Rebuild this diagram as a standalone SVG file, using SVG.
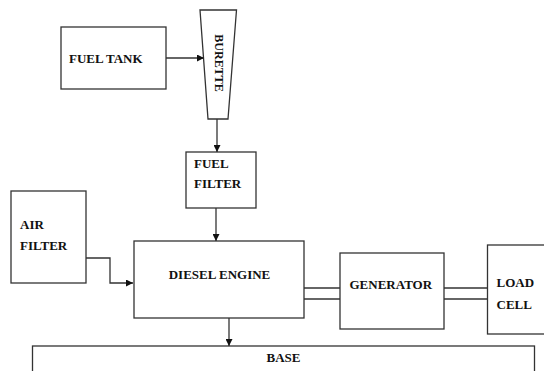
<svg xmlns="http://www.w3.org/2000/svg" width="544" height="371" viewBox="0 0 544 371">
<style>
.box{fill:#fff;stroke:#333;stroke-width:1.3}
.t{font-family:"Liberation Serif","Times New Roman",serif;font-weight:bold;font-size:13px;fill:#111}
.ln{fill:none;stroke:#333;stroke-width:1.3}
</style>
<defs>
<marker id="ah" viewBox="0 0 10 10" refX="10" refY="5" markerWidth="7" markerHeight="7" markerUnits="userSpaceOnUse" orient="auto">
<path d="M0,0 L10,5 L0,10 z" fill="#111"/>
</marker>
</defs>
<rect width="544" height="371" fill="#fff"/>
<g id="fuel-tank">
<rect class="box" x="61" y="27" width="105" height="62"/>
<text class="t" x="69" y="63">FUEL TANK</text>
</g>
<g id="burette">
<polygon class="box" points="200,10 236.5,10 228,119 208,119"/>
<text class="t" transform="translate(219,63) rotate(90)" x="0" y="4" text-anchor="middle" style="font-size:12px">BURETTE</text>
</g>
<g id="fuel-filter">
<rect class="box" x="186" y="152" width="70" height="56"/>
<text class="t" x="194" y="168">FUEL</text>
<text class="t" x="194" y="188">FILTER</text>
</g>
<g id="air-filter">
<rect class="box" x="11" y="191" width="75" height="92"/>
<text class="t" x="20" y="229">AIR</text>
<text class="t" x="20" y="250">FILTER</text>
</g>
<g id="diesel-engine">
<rect class="box" x="134" y="241" width="170" height="77"/>
<text class="t" x="219.5" y="279" text-anchor="middle">DIESEL ENGINE</text>
</g>
<g id="generator">
<rect class="box" x="340" y="253" width="104" height="76"/>
<text class="t" x="349.5" y="289">GENERATOR</text>
</g>
<g id="load-cell">
<rect class="box" x="487.5" y="245" width="62" height="89"/>
<text class="t" x="496.5" y="287">LOAD</text>
<text class="t" x="496.5" y="309">CELL</text>
</g>
<g id="base">
<rect class="box" x="32.5" y="346" width="502" height="40"/>
<text class="t" x="266.5" y="362">BASE</text>
</g>
<g id="connectors">
<line class="ln" x1="166" y1="58" x2="204" y2="58" marker-end="url(#ah)"/>
<line class="ln" x1="217" y1="119" x2="217" y2="152" marker-end="url(#ah)"/>
<line class="ln" x1="216" y1="208" x2="216" y2="241" marker-end="url(#ah)"/>
<polyline class="ln" points="86,258 110,258 110,283 133,283" marker-end="url(#ah)"/>
<line class="ln" x1="229" y1="318" x2="229" y2="346" marker-end="url(#ah)"/>
<line class="ln" x1="304" y1="288" x2="340" y2="288"/>
<line class="ln" x1="304" y1="299" x2="340" y2="299"/>
<line class="ln" x1="444" y1="288" x2="487.5" y2="288"/>
<line class="ln" x1="444" y1="299" x2="487.5" y2="299"/>
</g>
</svg>
